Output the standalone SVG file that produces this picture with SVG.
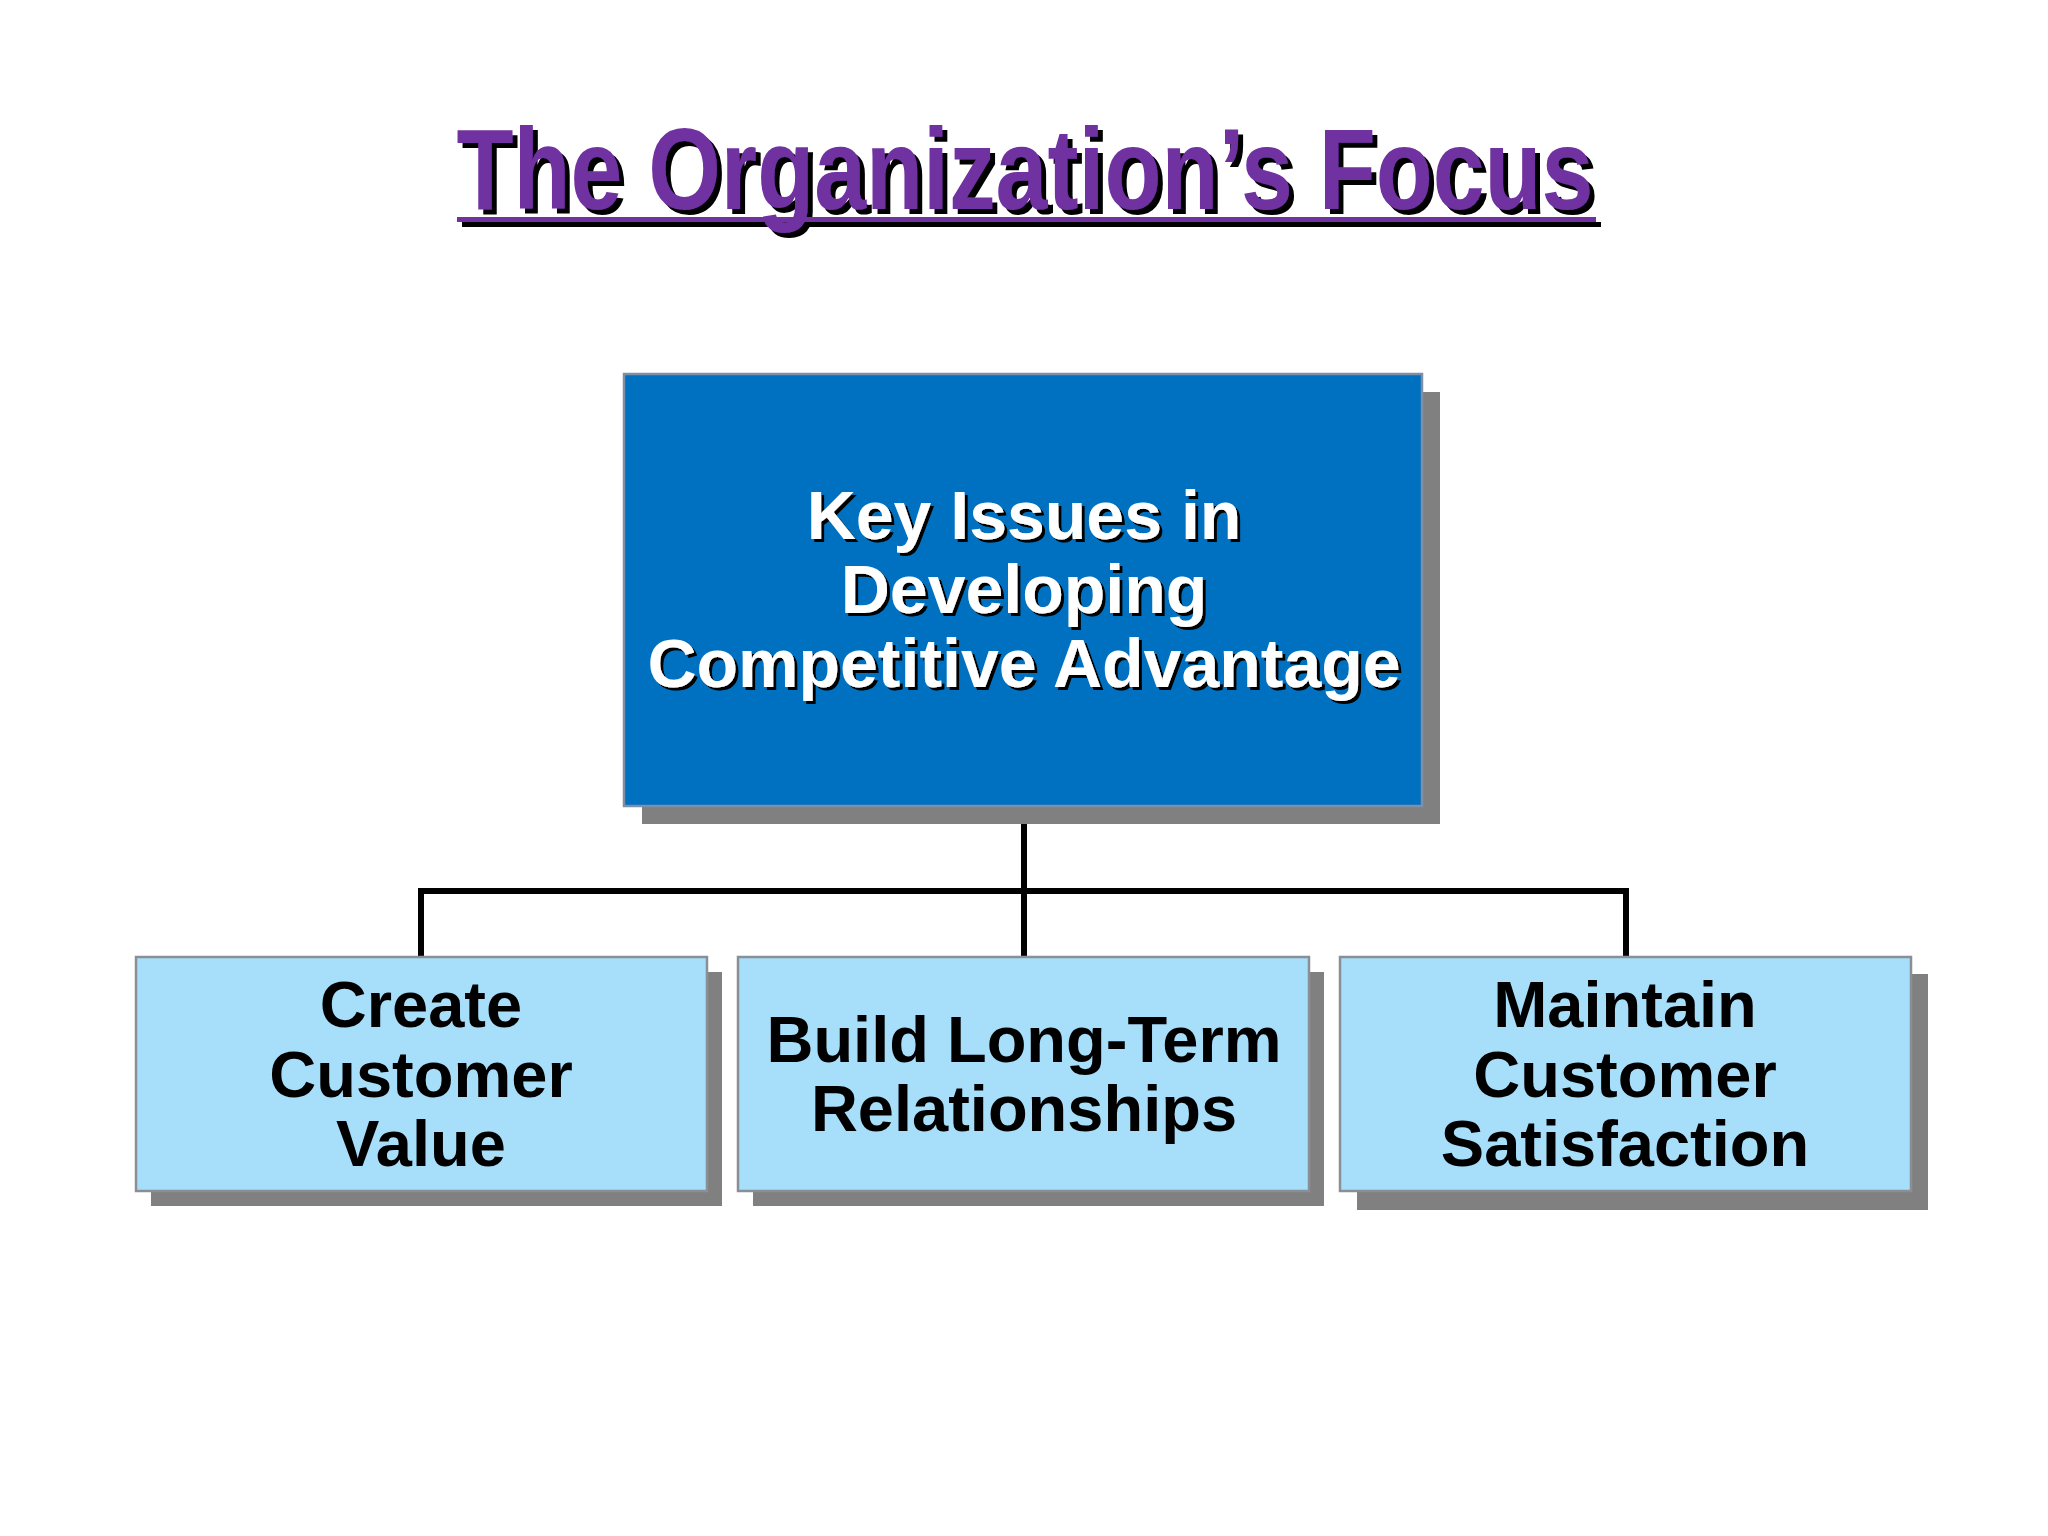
<svg xmlns="http://www.w3.org/2000/svg" width="2048" height="1536" viewBox="0 0 2048 1536">
<defs>
<filter id="ds5" x="-5%" y="-20%" width="110%" height="150%">
<feOffset in="SourceAlpha" dx="5" dy="5" result="o"/>
<feMerge><feMergeNode in="o"/><feMergeNode in="SourceGraphic"/></feMerge>
</filter>
<filter id="ds3" x="-5%" y="-20%" width="110%" height="150%">
<feOffset in="SourceAlpha" dx="3" dy="3" result="o"/>
<feMerge><feMergeNode in="o"/><feMergeNode in="SourceGraphic"/></feMerge>
</filter>
</defs>
<style>
.t{font-family:"Liberation Sans",Arial,sans-serif;font-weight:bold;text-anchor:middle}
.title{font-size:115px}
.main{font-size:68px}
.sub{font-size:65px;fill:#000}
.shadow{fill:#808080}
.lb{fill:#A7DEFA;stroke:#8A8F96;stroke-width:2.5}
</style>
<rect width="2048" height="1536" fill="#FFFFFF"/>
<g id="title" filter="url(#ds5)">
<text class="t title" x="1025" y="209" fill="#7030A0" textLength="1137" lengthAdjust="spacingAndGlyphs">The Organization’s Focus</text>
<rect x="457" y="217" width="1139" height="5" fill="#7030A0"/>
</g>
<g id="connectors" fill="none" stroke="#000" stroke-width="6">
<path d="M1024 806 V957"/>
<path d="M421 957 V891 H1626 V957"/>
</g>
<g id="node-main">
<rect class="shadow" x="642" y="392" width="798" height="432"/>
<rect x="624" y="374" width="798" height="432" fill="#0070C0" stroke="#7F8FA6" stroke-width="2.5"/>
<g class="t main" fill="#FFF" filter="url(#ds3)">
<text x="1024" y="539">Key Issues in</text>
<text x="1024" y="613">Developing</text>
<text x="1024" y="687">Competitive Advantage</text>
</g>
</g>
<g id="node-create">
<rect class="shadow" x="151" y="972" width="571" height="234"/>
<rect class="lb" x="136" y="957" width="571" height="234"/>
<text class="t sub" x="421" y="1027">Create</text>
<text class="t sub" x="421" y="1097">Customer</text>
<text class="t sub" x="421" y="1166">Value</text>
</g>
<g id="node-build">
<rect class="shadow" x="753" y="972" width="571" height="234"/>
<rect class="lb" x="738" y="957" width="571" height="234"/>
<text class="t sub" x="1024" y="1062">Build Long-Term</text>
<text class="t sub" x="1024" y="1131">Relationships</text>
</g>
<g id="node-maintain">
<rect class="shadow" x="1357" y="974" width="571" height="236"/>
<rect class="lb" x="1340" y="957" width="571" height="234"/>
<text class="t sub" x="1625" y="1027">Maintain</text>
<text class="t sub" x="1625" y="1097">Customer</text>
<text class="t sub" x="1625" y="1166">Satisfaction</text>
</g>
</svg>
